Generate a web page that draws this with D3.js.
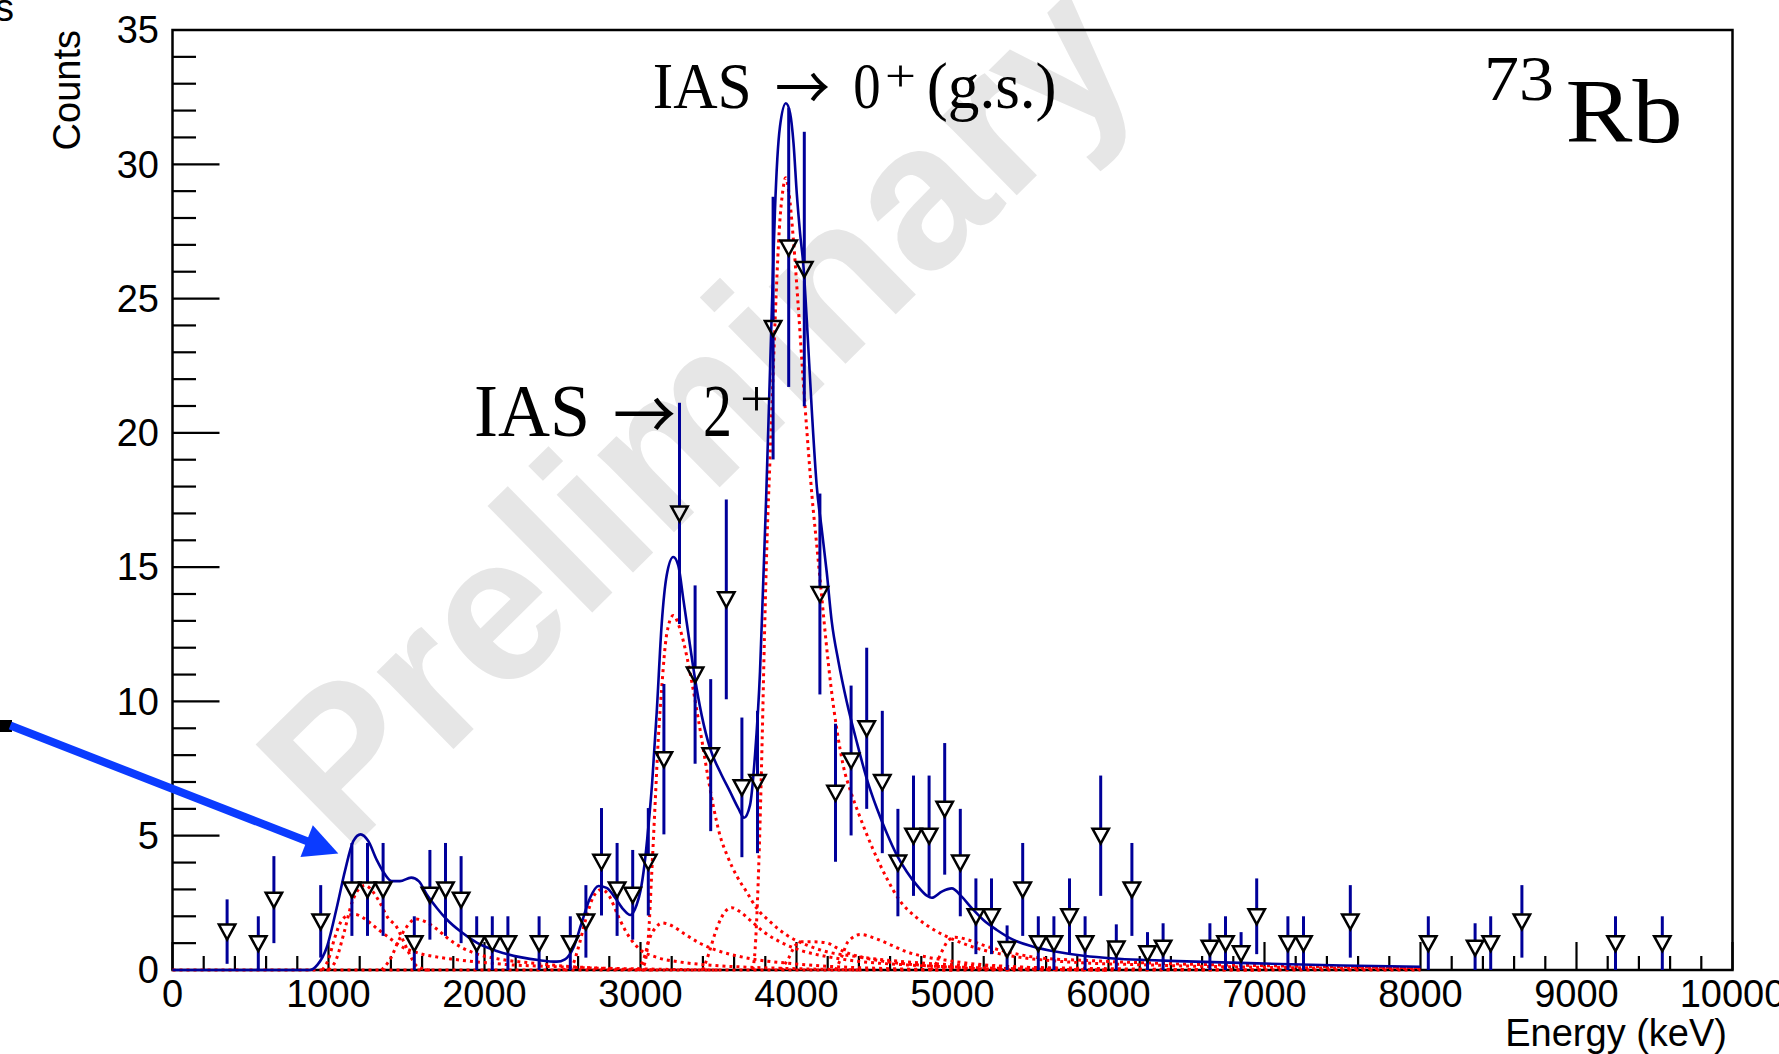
<!DOCTYPE html>
<html><head><meta charset="utf-8">
<script src="https://cdn.jsdelivr.net/npm/d3@7"></script>
<style>html,body{margin:0;padding:0;background:#fff;} svg{display:block}</style>
</head><body>
<svg id="chart" width="1779" height="1054"></svg>
<script>
// ---------------- DATA ----------------
const energies = [350,550,650,950,1150,1250,1350,1550,1650,1750,1850,1950,2050,2150,2350,2550,2650,2750,2850,2950,
  3050,3150,3250,3350,3450,3550,3650,3750,3850,3950,4050,4150,4250,4350,4450,4550,4650,4750,4850,4950,
  5050,5150,5250,5350,5450,5550,5650,5750,5850,5950,6050,6150,6250,6350,6650,6750,6850,6950,7150,7250,7550,
  8050,8350,8450,8650,9250,9550];
const counts = [1.43,1.0,2.62,1.81,3.0,3.0,3.0,1.0,2.8,3.0,2.62,1.0,1.0,1.0,1.0,1.0,1.81,4.03,3.0,2.8,
  4.03,7.85,17.0,11.0,8.0,13.8,6.8,7.0,23.9,26.9,26.1,14.0,6.6,7.8,9.0,7.0,4.0,5.0,5.0,6.0,
  4.0,2.0,2.0,0.78,3.0,1.0,1.0,2.0,1.0,5.0,0.8,3.0,0.62,0.83,0.83,1.0,0.62,2.0,1.0,1.0,1.81,
  1.0,0.83,1.0,1.81,1.0,1.0];
const errors = [1.2,1.0,1.62,1.35,1.73,1.73,1.73,1.0,1.67,1.73,1.62,1.0,1.0,1.0,1.0,1.0,1.35,2.0,1.73,1.67,
  2.0,2.8,4.12,3.32,2.83,3.72,2.6,2.65,4.89,5.19,5.11,3.74,2.57,2.79,3.0,2.65,2.0,2.24,2.24,2.45,
  2.0,1.41,1.41,0.88,1.73,1.0,1.0,1.41,1.0,2.24,0.9,1.73,0.79,0.91,0.91,1.0,0.79,1.41,1.0,1.0,1.35,
  1.0,0.91,1.0,1.35,1.0,1.0];

// total fit (solid blue)
const fitTotal = [[0,0],[880,0],[930,0.2],[988,0.83],[1052,2.3],[1106,3.7],[1159,4.8],[1206,5.05],[1255,4.8],[1309,4.1],
  [1362,3.56],[1405,3.31],[1458,3.31],[1530,3.44],[1580,3.3],[1629,2.82],[1693,2.32],[1757,1.89],[1843,1.45],[1950,1.02],
  [2078,0.71],[2228,0.48],[2356,0.36],[2463,0.31],[2516,0.4],[2570,0.83],[2623,1.76],[2677,2.69],[2730,3.13],[2783,3.06],
  [2837,2.69],[2890,2.26],[2935,2.05],[2976,2.44],[3000,2.95],[3025,3.9],[3050,5.3],[3075,7.0],[3104,9.6],[3136,12.9],
  [3168,14.7],[3210,15.38],[3242,15.07],[3274,13.83],[3317,12.1],[3349,10.86],[3392,9.49],[3446,8.25],[3510,7.38],[3574,6.64],
  [3627,6.02],[3664,5.67],[3702,6.14],[3734,8.0],[3766,11.1],[3787,14.5],[3805,17.5],[3826,21.5],[3845,25.2],[3862,28.3],
  [3877,30.2],[3894,31.4],[3932,32.27],[3959,31.9],[3981,30.78],[4002,28.9],[4023,27.43],[4045,26.18],[4066,24.2],[4098,20.85],
  [4130,18.0],[4162,16.4],[4194,14.8],[4226,12.97],[4269,11.48],[4322,9.99],[4386,8.5],[4450,7.13],[4515,6.02],[4579,5.09],
  [4643,4.28],[4707,3.66],[4771,3.16],[4835,2.77],[4867,2.69],[4931,2.92],[4995,3.04],[5059,2.73],[5124,2.3],[5198,1.86],
  [5284,1.49],[5391,1.12],[5519,0.87],[5668,0.68],[5839,0.53],[6032,0.43],[6245,0.37],[6500,0.32],[7000,0.24],[7500,0.17],[8000,0.12]];

// fit components (red dotted)
const compBase = [[0,0],[8000,0]];
const comp1 = [[1000,0],[1050,0.4],[1100,1.4],[1150,2.5],[1200,3.05],[1235,3.15],[1280,2.95],[1330,2.5],[1380,1.95],[1437,1.6],[1480,1.08],[1523,0.55],[1554,0.22],[1600,0.05],[1650,0]];
const comp2 = [[960,0],[1000,0.4],[1040,1.2],[1080,1.8],[1120,2.02],[1170,2.07],[1220,1.95],[1266,1.76],[1320,1.5],[1373,1.27],[1430,1.02],[1480,0.83],[1540,0.7],[1608,0.58],[1700,0.48],[1800,0.4],[1900,0.33],[2014,0.27],[2150,0.2],[2334,0.15],[2600,0.09],[3000,0.04],[3500,0]];
const comp3 = [[1340,0],[1400,0.45],[1450,1.1],[1500,1.6],[1560,1.9],[1620,1.8],[1700,1.5],[1760,1.2],[1850,0.85],[1950,0.6],[2100,0.4],[2300,0.26],[2550,0.13],[2800,0.05],[3100,0]];
const comp4 = [[2500,0],[2560,0.15],[2600,0.8],[2650,1.9],[2700,2.75],[2750,3.0],[2800,2.75],[2850,2.1],[2900,1.5],[2950,1.05],[3000,0.75],[3100,0.48],[3250,0.3],[3450,0.18],[3700,0.1],[4000,0.05],[4400,0]];
const comp5 = [[2990,0],[3020,0.15],[3050,1.2],[3072,3.6],[3093,6.1],[3114,8.6],[3136,10.5],[3168,12.5],[3210,13.2],[3253,12.7],[3296,11.7],[3339,10.4],[3392,8.6],[3435,7.1],[3467,6.1],[3510,5.0],[3553,4.3],[3617,3.5],[3681,2.9],[3745,2.3],[3830,1.8],[3937,1.3],[4065,0.93],[4194,0.68],[4386,0.5],[4707,0.3],[5200,0.15],[6000,0.05],[7000,0]];
const comp6 = [[2980,0],[3020,0.4],[3060,1.2],[3100,1.6],[3140,1.75],[3200,1.65],[3280,1.35],[3380,1.0],[3480,0.75],[3600,0.55],[3750,0.38],[3950,0.25],[4200,0.14],[4600,0.05],[5000,0]];
const comp7 = [[3400,0],[3435,0.56],[3489,1.55],[3542,2.17],[3585,2.32],[3638,2.17],[3702,1.86],[3787,1.43],[3894,1.05],[4022,0.74],[4194,0.5],[4386,0.33],[4707,0.19],[5134,0.09],[6000,0]];
const comp8 = [[3720,0],[3735,0.8],[3750,2.6],[3765,5.2],[3780,8.6],[3795,12.5],[3810,15.8],[3830,19.0],[3850,22.2],[3870,25.2],[3890,27.6],[3912,29.0],[3930,29.5],[3950,29.0],[3980,27.2],[4010,24.8],[4040,22.2],[4070,19.8],[4100,17.6],[4130,15.8],[4160,14.0],[4190,12.2],[4220,10.6],[4260,8.9],[4300,7.6],[4350,6.6],[4400,5.8],[4490,4.5],[4580,3.4],[4660,2.6],[4770,1.95],[4880,1.5],[5000,1.15],[5134,0.85],[5350,0.55],[5670,0.33],[6300,0.18],[7000,0.1],[8000,0.05]];
const comp9 = [[3900,0],[3950,0.45],[3990,0.9],[4030,1.05],[4110,1.05],[4200,1.0],[4250,0.85],[4300,0.7],[4400,0.5],[4550,0.33],[4750,0.2],[5000,0.1],[5400,0]];
const comp10 = [[4250,0],[4290,0.5],[4330,1.05],[4410,1.32],[4508,1.17],[4606,0.93],[4705,0.68],[4828,0.49],[4951,0.37],[5100,0.25],[5400,0.12],[6000,0]];
const comp11 = [[4860,0],[4900,0.3],[4931,0.68],[4973,1.1],[5016,1.22],[5101,1.12],[5208,0.9],[5348,0.68],[5562,0.45],[5882,0.35],[6309,0.25],[7000,0.16],[8000,0.09]];
const components = [compBase, comp1, comp2, comp3, comp4, comp5, comp6, comp7, comp8, comp9, comp10, comp11];

// axis ticks / labels
const xMajorTicks = [0,1000,2000,3000,4000,5000,6000,7000,8000,9000,10000];
const xTickLabels = ["0","1000","2000","3000","4000","5000","6000","7000","8000","9000","10000"];
const yMajorTicks = [0,5,10,15,20,25,30,35];
const yTickLabels = ["0","5","10","15","20","25","30","35"];

// ---------------- DRAWING ----------------
const svg = d3.select('#chart');
const x = d3.scaleLinear().domain([0,10000]).range([172.5,1732.5]);
const y = d3.scaleLinear().domain([0,35]).range([970,30]);

svg.append('rect').attr('width',1779).attr('height',1054).attr('fill','#fff');

// watermark
svg.append('text')
  .attr('transform','translate(702,418) rotate(-44.5)')
  .attr('text-anchor','middle').attr('dy','0.3em')
  .attr('font-family','Liberation Sans, Arial, sans-serif').attr('font-weight','bold')
  .attr('font-size',206).attr('fill','#e6e6e6')
  .text('Preliminary');

// frame
svg.append('rect').attr('x',x(0)).attr('y',y(35)).attr('width',x(10000)-x(0)).attr('height',y(0)-y(35))
  .attr('fill','none').attr('stroke','#000').attr('stroke-width',2.5);

// ticks
const tg = svg.append('g').attr('stroke','#000').attr('stroke-width',2.2);
d3.range(0,10001,200).forEach(v=>{
  const major = v%1000===0;
  tg.append('line').attr('x1',x(v)).attr('x2',x(v)).attr('y1',y(0)).attr('y2',y(0)-(major?28:14));
});
d3.range(0,36,1).forEach(v=>{
  const major = v%5===0;
  tg.append('line').attr('x1',x(0)).attr('x2',x(0)+(major?47:23.5)).attr('y1',y(v)).attr('y2',y(v));
});

const sans = 'Liberation Sans, Arial, Helvetica, sans-serif';
svg.append('g').selectAll('text').data(xMajorTicks).join('text')
  .attr('x',d=>x(d)).attr('y',1007).attr('text-anchor','middle')
  .attr('font-family',sans).attr('font-size',38).text((d,i)=>xTickLabels[i]);
svg.append('g').selectAll('text').data(yMajorTicks).join('text')
  .attr('x',159).attr('y',d=>y(d)).attr('dy','0.35em').attr('text-anchor','end')
  .attr('font-family',sans).attr('font-size',38).text((d,i)=>yTickLabels[i]);

svg.append('text').attr('x',1727).attr('y',1046).attr('text-anchor','end')
  .attr('font-family',sans).attr('font-size',38).text('Energy (keV)');
svg.append('text').attr('transform','translate(80,30) rotate(-90)').attr('text-anchor','end')
  .attr('font-family',sans).attr('font-size',38).text('Counts');

// fragment at top-left and black square
svg.append('text').attr('x',-5).attr('y',21).attr('font-family',sans).attr('font-size',38).text('s');
svg.append('rect').attr('x',0).attr('y',720).attr('width',12).attr('height',12).attr('fill','#000');

// fit components
const line = d3.line().x(d=>x(d[0])).y(d=>y(d[1])).curve(d3.curveMonotoneX);
svg.append('g').selectAll('path').data(components).join('path')
  .attr('d',line).attr('fill','none').attr('stroke','#ff0000').attr('stroke-width',3)
  .attr('stroke-dasharray','3,4');
// total fit
svg.append('path').datum(fitTotal).attr('d',line).attr('fill','none')
  .attr('stroke','#000099').attr('stroke-width',2.6);

// error bars with gap around markers
const gap = 7.5;
const eb = svg.append('g').attr('stroke','#000099').attr('stroke-width',3);
energies.forEach((e,i)=>{
  const cx = x(e), cy = y(counts[i]);
  const top = y(counts[i]+errors[i]);
  const bot = y(Math.max(0,counts[i]-errors[i]));
  if (cy-gap > top) eb.append('line').attr('x1',cx).attr('x2',cx).attr('y1',top).attr('y2',cy-gap);
  if (bot > cy+gap) eb.append('line').attr('x1',cx).attr('x2',cx).attr('y1',cy+gap).attr('y2',bot);
});
// markers: open triangle down
svg.append('g').selectAll('path').data(energies).join('path')
  .attr('transform',(d,i)=>`translate(${x(d)},${y(counts[i])})`)
  .attr('d','M-8.2,-7 L8.2,-7 L0,8 Z')
  .attr('fill','none').attr('stroke','#000').attr('stroke-width',2.5);

// annotations (serif, LaTeX-like)
const serif = 'Liberation Serif, Times New Roman, serif';
function piece(txt,px,py,size,len,fam){
  svg.append('text').attr('x',px).attr('y',py).attr('font-family',fam||serif).attr('font-size',size)
    .attr('textLength',len).attr('lengthAdjust','spacingAndGlyphs').text(txt);
}
const arrowFont = 'Noto Sans CJK JP, DejaVu Sans, sans-serif';
piece('IAS',652.7,108.3,65,99);
piece('\u2192',775,110,60,55,arrowFont);
piece('0',853.3,108.3,65,27.4);
piece('+',885,91,45,31);
piece('(g.s.)',926.7,108.3,65,130);

piece('IAS',474,436,73,116);
piece('\u2192',613,440,68,63,arrowFont);
piece('2',703,436,73,29);
piece('+',740,416,50,33);

piece('73',1484,100,64,70);
piece('Rb',1565.6,141.7,91,117);

// blue arrow (in data coordinates)
const aStart = [-1040, 9.1], aTip = [1063, 4.34];
const sx = x(aStart[0]), sy = y(aStart[1]), tx = x(aTip[0]), ty = y(aTip[1]);
const dx = tx-sx, dy = ty-sy, L = Math.hypot(dx,dy), ux = dx/L, uy = dy/L;
const headL = 34, headW = 17;
const bx = tx-ux*headL, by = ty-uy*headL;
svg.append('line').attr('x1',sx).attr('y1',sy).attr('x2',bx+ux*2).attr('y2',by+uy*2)
  .attr('stroke','#0b3bff').attr('stroke-width',8);
svg.append('path').attr('d',`M${tx},${ty} L${bx-uy*headW},${by+ux*headW} L${bx+uy*headW},${by-ux*headW} Z`)
  .attr('fill','#0b3bff');
</script>
</body></html>
